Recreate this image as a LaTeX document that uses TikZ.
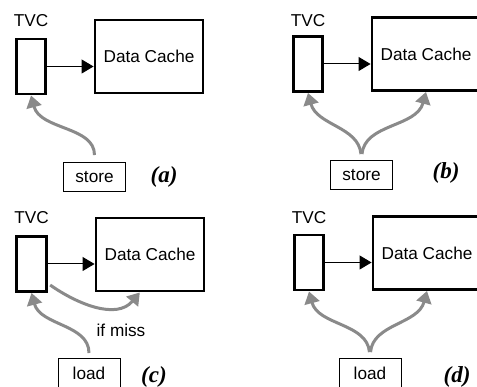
\documentclass[tikz,border=0pt]{standalone}
\usepackage{fontspec}
\setmainfont{Liberation Sans}
\newfontfamily\lblfont{Liberation Serif}
\usetikzlibrary{arrows.meta}

\begin{document}
\begin{tikzpicture}[x=1pt,y=1pt,
    txt/.style={font=\fontsize{17.2}{19}\selectfont,inner sep=0pt},
    panel/.style={font=\lblfont\fontsize{23}{25}\selectfont\bfseries\itshape,inner sep=0pt},
    link/.style={draw,line width=1pt,-{Triangle[length=12pt,width=14pt]}}]

      \useasboundingbox (0,0) rectangle (477,387);

      % TVC buffers
      \begin{scope}[every node/.style={draw,line width=2.9pt,minimum width=29.5pt,minimum height=55pt,inner sep=0pt}]
        \node (ta) at (31,320.5)   {};
        \node (tb) at (308,323)    {};
        \node (tc) at (31.5,123)   {};
        \node (td) at (309,124.5)  {};
      \end{scope}

      % data caches
      \begin{scope}[every node/.style={draw,line width=2.9pt,minimum width=108pt,minimum height=73pt,inner sep=0pt,txt}]
        \node (ca) at (149,330.5)  {Data Cache};
        \node (cb) at (426,333)    {Data Cache};
        \node (cc) at (150,132.5)  {Data Cache};
        \node (cd) at (427,134)    {Data Cache};
      \end{scope}

      % instructions
      \begin{scope}[every node/.style={draw,line width=0.9pt,minimum width=62pt,minimum height=29pt,inner sep=0pt,txt}]
        \node (sa) at (94.5,210)   {store};
        \node (sb) at (361.5,212)  {store};
        \node (lc) at (89,14)      {load};
        \node (ld) at (370,14)     {load};
      \end{scope}

      % labels
      \begin{scope}[every node/.style={txt}]
        \node (na) at (31,366)     {TVC};
        \node (nb) at (308,366)    {TVC};
        \node (nc) at (31.5,169)   {TVC};
        \node (nd) at (309,169)    {TVC};
        \node (miss) at (121,57)   {if miss};
      \end{scope}

      \begin{scope}[every node/.style={panel}]
        \node (pa) at (164,210)    {(a)};
        \node (pb) at (446,214)    {(b)};
        \node (pc) at (154,10)     {(c)};
        \node (pd) at (457,10)     {(d)};
      \end{scope}

      % TVC -> cache
      \draw[link] (ta.east) -- (ta.east -| ca.west);
      \draw[link] (tb.east) -- (tb.east -| cb.west);
      \draw[link] (tc.east) -- (tc.east -| cc.west);
      \draw[link] (td.east) -- (td.east -| cd.west);

      % accesses
      \begin{scope}[every edge/.style={draw,color=black!46,line width=3pt,-{Triangle[length=12pt,width=15pt]}}]
        \path (sa.north) edge[out=90,in=-75,shorten <=7pt] (ta.south);
        \path (sb.north) edge[out=95,in=-75,shorten <=6pt] (tb.south);
        \path (sb.north) edge[out=85,in=-105,shorten <=6pt] (cb.south);
        \path (lc.north) edge[out=90,in=-75,shorten <=5pt] (tc.south);
        \path (tc.-50)   edge[out=-35,in=-130,shorten <=3pt] (cc.255);
        \path (ld.north) edge[out=95,in=-75,shorten <=6pt] (td.south);
        \path (ld.north) edge[out=85,in=-105,shorten <=6pt] (cd.south);
      \end{scope}

    \end{tikzpicture}
\end{document}
